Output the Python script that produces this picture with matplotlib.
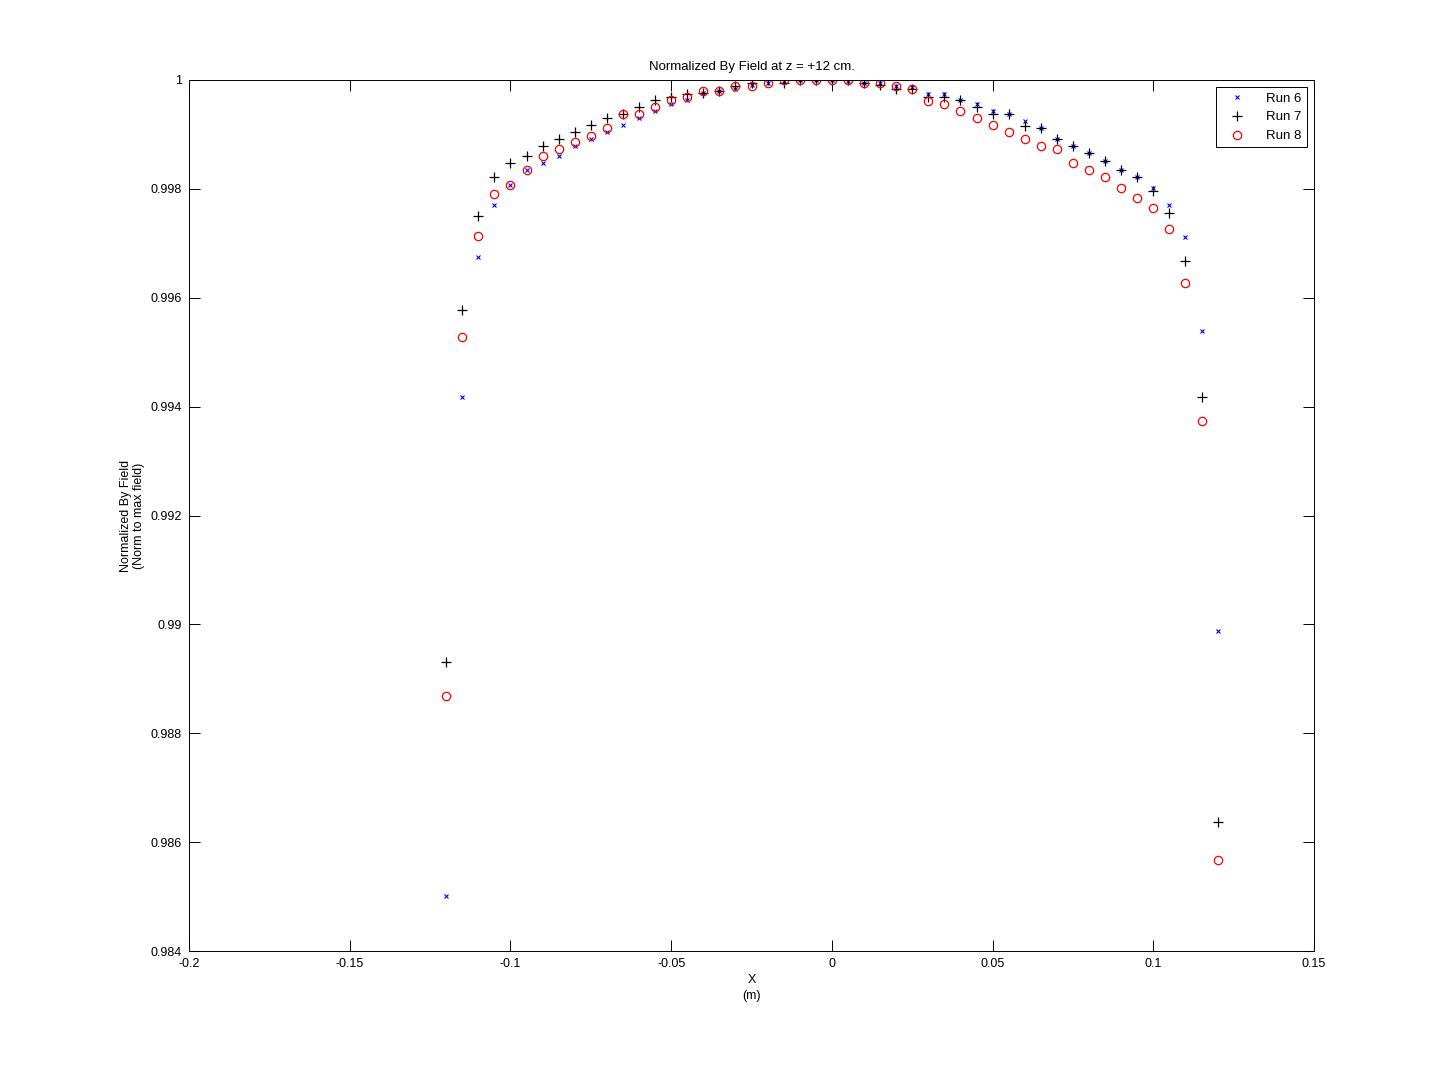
import matplotlib
matplotlib.use("Agg")
import matplotlib.pyplot as plt
import numpy as np

plt.rcParams['font.family'] = ['Liberation Sans', 'DejaVu Sans']

x_pos = [-0.12, -0.115, -0.11, -0.105, -0.1, -0.095, -0.09, -0.085, -0.08, -0.075,
         -0.07, -0.065, -0.06, -0.055, -0.05, -0.045, -0.04, -0.035, -0.03, -0.025,
         -0.02, -0.015, -0.01, -0.005, 0.0, 0.005, 0.01, 0.015, 0.02, 0.025,
         0.03, 0.035, 0.04, 0.045, 0.05, 0.055, 0.06, 0.065, 0.07, 0.075,
         0.08, 0.085, 0.09, 0.095, 0.1, 0.105, 0.11, 0.115, 0.12]

run6 = [0.98501, 0.99418, 0.99674, 0.99770, 0.99808, 0.99834, 0.99848, 0.99860, 0.99879, 0.99891,
        0.99904, 0.99917, 0.99930, 0.99943, 0.99956, 0.99963, 0.99977, 0.99980, 0.99983, 0.99991,
        0.99994, 0.99998, 1.0, 1.0, 1.0, 0.99998, 0.99994, 0.99994, 0.99989, 0.99988,
        0.99974, 0.99974, 0.99963, 0.99955, 0.99943, 0.99938, 0.99925, 0.99911, 0.99892, 0.99878,
        0.99865, 0.99852, 0.99835, 0.99821, 0.99801, 0.99770, 0.99711, 0.99539, 0.98988]

run7 = [0.98931, 0.99577, 0.99750, 0.99821, 0.99847, 0.99860, 0.99878, 0.99891, 0.99904, 0.99917,
        0.99930, 0.99937, 0.99950, 0.99963, 0.99969, 0.99974, 0.99977, 0.99980, 0.99989, 0.99994,
        1.0, 0.99995, 1.0, 1.0, 1.0, 1.0, 0.99994, 0.99991, 0.99983, 0.99983,
        0.99968, 0.99968, 0.99963, 0.99950, 0.99938, 0.99938, 0.99916, 0.99911, 0.99892, 0.99878,
        0.99865, 0.99852, 0.99835, 0.99821, 0.99796, 0.99756, 0.99667, 0.99418, 0.98637]

run8 = [0.98868, 0.99528, 0.99713, 0.99790, 0.99808, 0.99834, 0.99860, 0.99873, 0.99886, 0.99898,
        0.99912, 0.99937, 0.99937, 0.99950, 0.99963, 0.99968, 0.99980, 0.99980, 0.99989, 0.99989,
        0.99994, 1.0, 1.0, 1.0, 1.0, 1.0, 0.99994, 0.99994, 0.99989, 0.99983,
        0.99962, 0.99955, 0.99943, 0.99930, 0.99917, 0.99904, 0.99891, 0.99878, 0.99873, 0.99847,
        0.99834, 0.99821, 0.99801, 0.99783, 0.99764, 0.99726, 0.99628, 0.99374, 0.98567]

xticks = [-0.2, -0.15, -0.1, -0.05, 0, 0.05, 0.1, 0.15]
xticklabels = ['-0.2', '-0.15', '-0.1', '-0.05', '0', '0.05', '0.1', '0.15']
yticks = [0.984, 0.986, 0.988, 0.99, 0.992, 0.994, 0.996, 0.998, 1.0]
yticklabels = ['0.984', '0.986', '0.988', '0.99', '0.992', '0.994', '0.996', '0.998', '1']

W, H = 1452, 1069
fig = plt.figure(figsize=(W / 100, H / 100), dpi=100)
ax = fig.add_axes([189 / W, 1 - 951 / H, (1314 - 189) / W, (951 - 80) / H])

ax.plot(x_pos, run6, linestyle='none', marker='x', color='blue', markersize=3.5,
        markeredgewidth=0.8, label='Run 6')
ax.plot(x_pos, run7, linestyle='none', marker='+', color='black', markersize=7,
        markeredgewidth=0.9, label='Run 7')
ax.plot(x_pos, run8, linestyle='none', marker='o', markerfacecolor='none',
        markeredgecolor='red', markersize=6, markeredgewidth=0.9, label='Run 8')

ax.set_xlim(-0.2, 0.15)
ax.set_ylim(0.984, 1.0)
ax.set_xticks(xticks)
ax.set_xticklabels(xticklabels)
ax.set_yticks(yticks)
ax.set_yticklabels(yticklabels)
ax.tick_params(direction='in', length=8, width=0.7, top=True, right=True,
               labelsize=9, pad=5)
for s in ax.spines.values():
    s.set_linewidth(0.7)

ax.set_title('Normalized By Field at z = +12 cm.', fontsize=9.5, pad=7)
ax.set_xlabel('X\n(m)', fontsize=9, labelpad=3, linespacing=1.4)
ax.set_ylabel('Normalized By Field\n(Norm to max field)', fontsize=9, labelpad=4,
              linespacing=1.1)

leg = ax.legend(loc='upper right', bbox_to_anchor=(1307 / W, 1 - 87 / H),
                bbox_transform=fig.transFigure, fontsize=9.5, frameon=True,
                fancybox=False, edgecolor='black', framealpha=1,
                borderpad=0.4, labelspacing=0.5, handlelength=2.4, handletextpad=1.0,
                borderaxespad=0, markerfirst=True)
leg.get_frame().set_linewidth(0.7)

fig.savefig('out.png', dpi=100)
